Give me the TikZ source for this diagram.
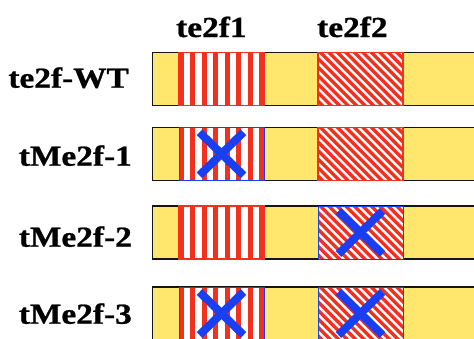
\documentclass[tikz,border=0pt]{standalone}
\usepackage{fontspec}
\newfontfamily\lblfont[FakeBold=0.8]{LiberationSerif-Bold.ttf}
\definecolor{baryellow}{HTML}{FFE76E}
\definecolor{sred}{HTML}{F2301F}
\definecolor{sblue}{HTML}{1840F2}
\definecolor{barline}{HTML}{151515}
\newcommand\stretchlbl[1]{\scalebox{1.15}[1]{#1}}
\tikzset{
  bar/.style={draw=barline, line width=1.5pt, fill=baryellow, minimum width=330pt, minimum height=53pt, inner sep=0pt},
  exon/.style={line width=1.2pt, fill=white, minimum width=85pt, minimum height=53pt, inner sep=0pt},
  vstripe/.style={exon, path picture={
      \foreach \k in {0,...,7}{\fill[sred] ([xshift=\k*11.43pt]path picture bounding box.north west) rectangle ++(5,53);}}},
  dstripe/.style={exon, path picture={
      \foreach \k in {-8,...,11}{\fill[sred] ([xshift=\k*8.5pt]path picture bounding box.north west) -- ++(4.6,0) -- ++(53,53) -- ++(-4.6,0) -- cycle;}}},
  intact/.style={draw=sred},
  knocked/.style={draw=sblue, line width=1pt},
  xmark/.style={draw=sblue, line width=8pt, line cap=butt},
  lab/.style={font=\lblfont\fontsize{29}{29}\selectfont, inner sep=0pt},
}
\begin{document}
\begin{tikzpicture}[x=1pt,y=-1pt]
\useasboundingbox (0,0) rectangle (474,338);
\clip (0,0) rectangle (474,338);
% headers
\node[lab, anchor=base west] (h1) at (176,37) {\stretchlbl{te2f1}};
\node[lab, anchor=base west] (h2) at (317,37) {\stretchlbl{te2f2}};
% row labels
\node[lab, anchor=base east] (l1) at (129,87.7) {\stretchlbl{te2f-WT}};
\node[lab, anchor=base east] (l2) at (132,165.7) {\stretchlbl{tMe2f-1}};
\node[lab, anchor=base east] (l3) at (132,246.7) {\stretchlbl{tMe2f-2}};
\node[lab, anchor=base east] (l4) at (132,323.7) {\stretchlbl{tMe2f-3}};
% bars
\node[bar] (b1) at (317.5,78.8) {};
\node[bar] (b2) at (317.5,153.8) {};
\node[bar] (b3) at (317.5,232.5) {};
\node[bar] (b4) at (317.5,313.5) {};
% exons
\node[vstripe, intact]  (e11) at (221.5,78.8) {};
\node[dstripe, intact]  (e12) at (360.5,78.8) {};
\node[vstripe, knocked] (e21) at (221.5,153.8) {};
\node[dstripe, intact]  (e22) at (360.5,153.8) {};
\node[vstripe, intact]  (e31) at (221.5,232.5) {};
\node[dstripe, knocked] (e32) at (360.5,232.5) {};
\node[vstripe, knocked] (e41) at (221.5,313.5) {};
\node[dstripe, knocked] (e42) at (360.5,313.5) {};
% crosses
\foreach \e in {e21,e32,e41,e42}{
  \draw[xmark] ([shift={(-22,-21.5)}]\e.center) -- ([shift={(22,21.5)}]\e.center);
  \draw[xmark] ([shift={(-22,21.5)}]\e.center) -- ([shift={(22,-21.5)}]\e.center);
}
\end{tikzpicture}
\end{document}
